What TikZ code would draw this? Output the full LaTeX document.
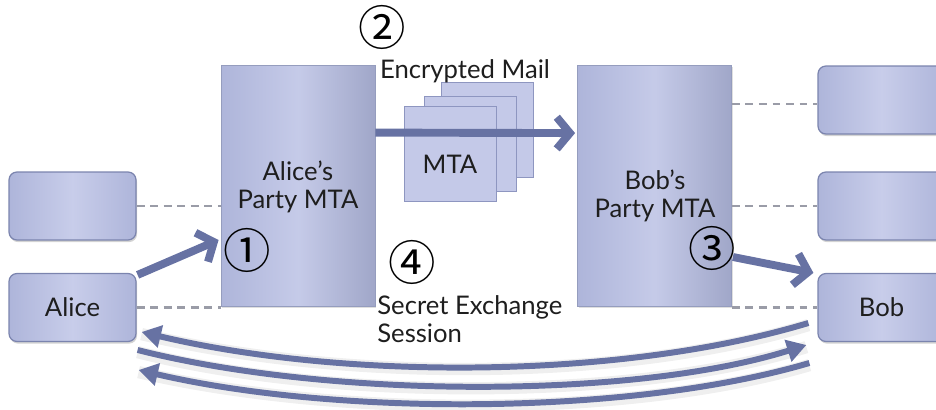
\documentclass[tikz,border=0pt]{standalone}
\usepackage{fontspec}
\setmainfont{Lato}
\newfontfamily\symfont{Noto Sans CJK JP}
\usetikzlibrary{arrows.meta,calc,shadows}

\definecolor{boxfill}{HTML}{AEB5DA}
\definecolor{boxlight}{HTML}{C8CDEA}
\definecolor{boxedge}{HTML}{7B84AE}
\definecolor{stackfill}{HTML}{C4C9E8}
\definecolor{stackedge}{HTML}{8E96C0}
\definecolor{flow}{HTML}{6772A3}
\definecolor{dashgray}{HTML}{9A9CA7}
\definecolor{ink}{HTML}{1E1E1E}

\begin{document}
\begin{tikzpicture}[x=0.02cm,y=-0.02cm,
  font=\fontsize{14.6}{15.8}\selectfont, text=ink,
  client/.style={draw=boxedge, line width=0.7pt, rounded corners=4.5pt,
    left color=boxfill, right color=boxfill, middle color=boxlight,
    minimum width=2.54cm, minimum height=1.36cm,
    drop shadow={shadow xshift=0.6pt, shadow yshift=-1.2pt, opacity=.35}},
  relay/.style={draw=boxedge!80, line width=0.5pt,
    left color=boxfill, right color=boxfill!92!black, middle color=boxlight!90!boxfill,
    minimum width=3.08cm, minimum height=4.82cm,
    drop shadow={shadow xshift=0.6pt, shadow yshift=-1pt, opacity=.25}},
  stackbox/.style={draw=stackedge, line width=0.5pt, fill=stackfill,
    minimum width=1.84cm, minimum height=1.9cm},
  caption/.style={align=center, inner sep=0pt},
  numc/.style={font=\symfont\fontsize{27}{27}\selectfont, inner sep=0pt, text=black},
  link/.style={draw=dashgray, line width=1.6pt, dash pattern=on 4.5pt off 3.2pt},
  thick flow/.style={draw=flow, line width=4.5pt,
    -{Straight Barb[length=7.5pt,width=18pt]}},
  swap flow/.style={draw=flow, line width=3.4pt,
    -{Triangle[length=11pt,width=12.5pt]},
    preaction={draw=black!25, opacity=.25, line width=7pt, -,
      transform canvas={yshift=-1.2pt}}},
]
\useasboundingbox (0,0) rectangle (936,409);
\clip (0,0) rectangle (936,409);

% clients on both sides
\node[client] (lbox) at (72.5,206) {};
\node[client] (alice) at (72.5,307.5) {Alice};
\node[client] (rtop) at (881.5,100) {};
\node[client] (rmid) at (881.5,206) {};
\node[client] (bob) at (881.5,307.5) {Bob};

% relay MTAs of each party
\node[relay] (amta) at (298,185.5) {};
\node[relay] (bmta) at (654.5,186) {};
\node[caption] (atext) at (298,187) {Alice's\\Party MTA};
\node[caption] (btext) at (655,196) {Bob's\\Party MTA};

% intermediate MTAs
\node[stackbox] (mta3) at (487.5,130) {};
\node[stackbox] (mta2) at (470,143.5) {};
\node[stackbox] (mta1) at (450,154) {};
\node[caption] (mtatext) at (450,164) {MTA};

% dashed attachments
\draw[link] (lbox.east) -- (lbox.east -| amta.west);
\draw[link] (alice.east) -- (alice.east -| amta.west);
\draw[link] ($(rtop.west -| bmta.east)+(0,4)$) -- ($(rtop.west)+(0,4)$);
\draw[link] (rmid.west -| bmta.east) -- (rmid.west);
\draw[link] (bob.west -| bmta.east) -- (bob.west);

% message flow
\draw[thick flow] ($(alice.north east)+(1,2)$) -- ($(amta.west)+(-2,54.5)$);
\draw[thick flow] ($(amta.north east)+(0,68)$) -- ($(bmta.north west)+(-2,68)$);
\draw[thick flow] ($(bmta.east)+(1,71)$) -- ($(bob.north west)+(-4,0)$);

% key exchange session
\draw[swap flow] ($(bob.west)+(-9,15.5)$) .. controls +(-189,57) and +(202,48) .. ($(alice.east)+(5,24.5)$);
\draw[swap flow] ($(alice.east)+(1,42.5)$) .. controls +(193,49) and +(-172,54) .. ($(bob.west)+(-11,37.5)$);
\draw[swap flow] ($(bob.west)+(-8,55.5)$) .. controls +(-180,53) and +(197,46) .. ($(alice.east)+(2,62.5)$);

% step labels
\node[caption] (mail) at (465,71) {Encrypted Mail};
\node[caption, anchor=west, align=left] (session) at (377,319) {Secret Exchange\\Session};
\node[numc] (n1) at (247,250) {①};
\node[numc] (n2) at (382,27) {②};
\node[numc] (n3) at (712,248) {③};
\node[numc] (n4) at (412,262) {④};
\end{tikzpicture}
\end{document}
